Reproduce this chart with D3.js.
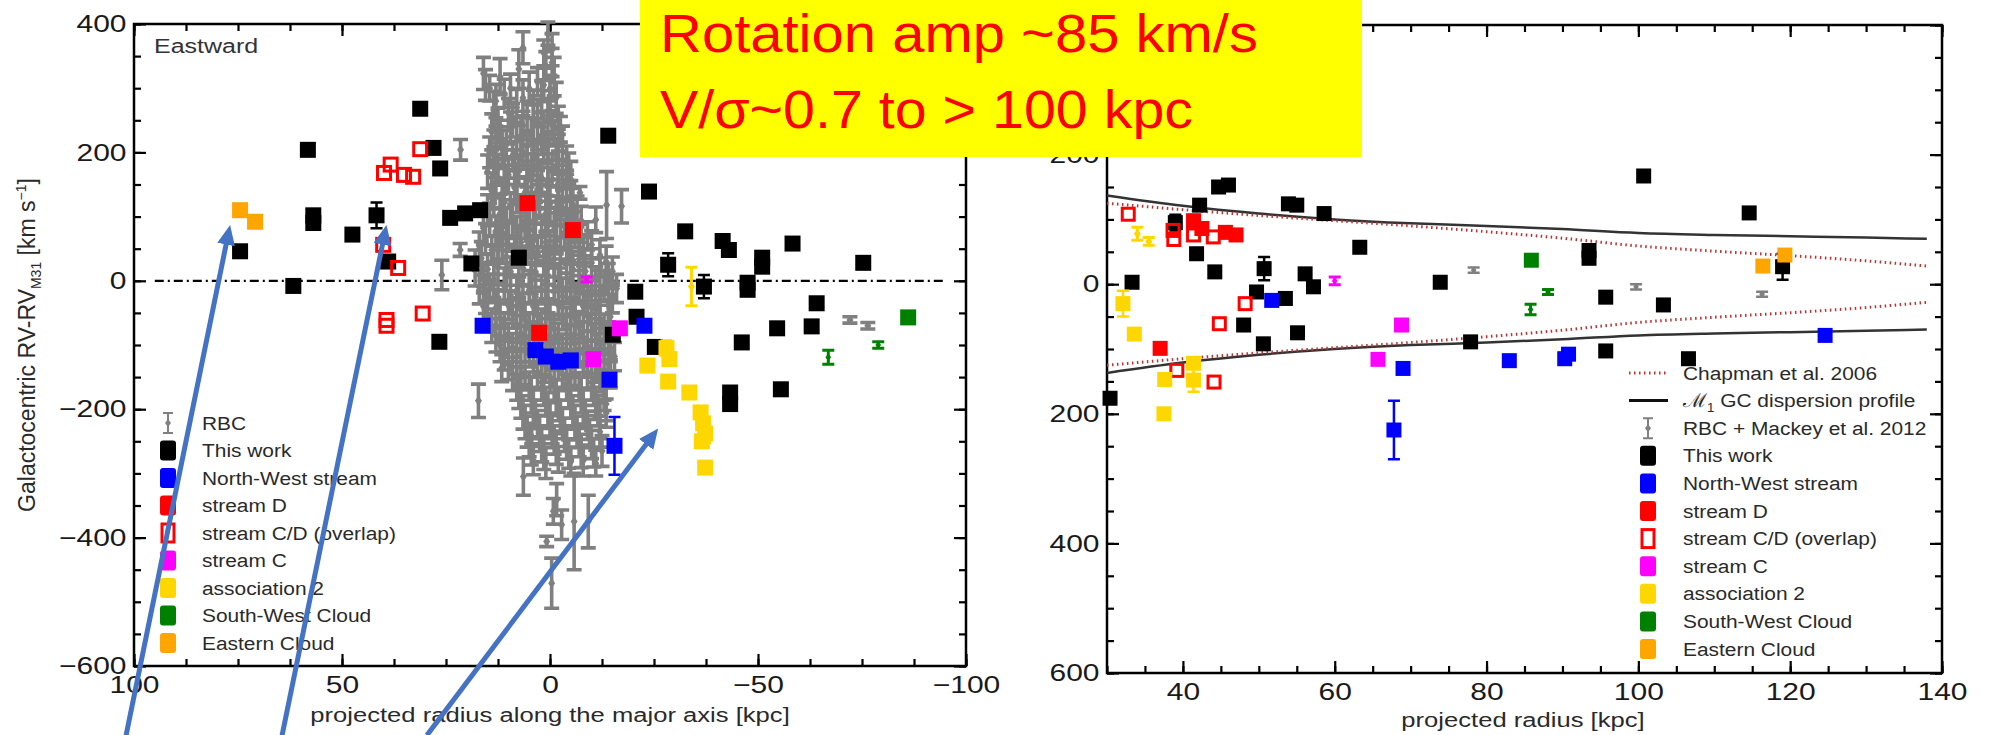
<!DOCTYPE html>
<html>
<head>
<meta charset="utf-8">
<script src="https://cdn.jsdelivr.net/npm/d3@7"></script>
<style>
body{margin:0;background:#fff}
svg{display:block;font-family:"Liberation Sans",Arial,sans-serif}
</style>
</head>
<body>
<svg id="fig" width="1991" height="735"></svg>
<script>
// ---- left panel: RV vs projected radius along major axis [x, y, err]
const rbcLeft = [
  [0.5,385,18],[-0.5,360,25],[1,335,22],[-1,318,30],[0,300,20],
  [16,323,25],[14.5,300,20],[12,318,28],[11,292,22],[7.5,330,30],[6.5,363,25],[5,300,25],[3,310,22],[2,282,30],[-1.5,285,24],
  [13.5,265,30],[10,262,22],[8,270,28],[5.5,255,25],[3,262,20],[0.5,258,26],[-2,250,22],
  [14,232,28],[12,228,22],[9.5,238,25],[7,225,30],[4.5,232,22],[2,222,25],[-1,230,20],[-3,215,26],
  [14.5,200,24],[11.5,205,30],[9,195,22],[6.5,200,26],[4,192,28],[1.5,205,22],[-1.5,195,25],[-4,188,22],
  [15,170,26],[12.5,175,22],[10,165,28],[7.5,172,24],[4.5,168,30],[2,160,22],[-0.5,172,26],[-3,165,22],[-5,158,28],
  [14,140,28],[11.5,135,22],[8.5,145,26],[6,138,24],[3,142,30],[0.5,135,22],[-2,140,26],[-5,132,24],[-7.2,137,10],
  [15,110,24],[12,105,30],[9.5,115,22],[7,108,26],[4,112,24],[1,105,28],[-1.5,110,22],[-4,102,26],[-6.5,108,24],[-11,95,20],
  [16,82,26],[13,78,22],[10.5,85,28],[8,76,24],[5,82,30],[2,75,22],[-1,80,26],[-3.5,72,24],[-6,80,28],[-9,70,22],
  [17,50,26],[14,48,22],[11.5,55,28],[8.5,45,24],[5.5,52,26],[3,46,22],[0,50,28],[-2.5,44,24],[-5,52,26],[-8,45,22],[-12,40,24],
  [18,20,28],[15,18,24],[12.5,22,26],[9.5,15,22],[6.5,20,28],[3.5,14,24],[0.5,20,26],[-2.5,12,22],[-5.5,18,28],[-8.5,15,24],[-12,10,26],[-15,15,22],
  [17,-10,26],[14.5,-12,22],[11,-8,28],[8,-15,24],[5,-10,26],[2,-14,22],[-1,-8,28],[-4,-12,24],[-7,-10,26],[-10,-15,22],[-13,-8,24],[-16,-12,22],
  [16,-40,24],[13,-42,28],[10,-38,22],[7,-45,26],[4,-40,24],[1,-44,28],[-2,-38,22],[-5,-42,26],[-8,-40,24],[-11,-45,22],[-14,-38,26],
  [14,-70,26],[11,-72,22],[8,-68,28],[5,-74,24],[2,-70,26],[-1,-75,22],[-4,-70,28],[-7,-72,24],[-10,-68,26],[-13,-74,22],
  [12,-100,26],[9,-104,22],[6,-98,28],[3,-102,24],[0,-100,26],[-3,-105,22],[-6,-98,28],[-9,-102,24],[-12,-100,26],[-14.5,-104,22],
  [10,-130,24],[7,-134,28],[4,-128,22],[1,-132,26],[-2,-130,24],[-5,-135,28],[-8,-128,22],[-11,-132,26],[-14,-130,24],
  [8,-160,26],[5,-164,22],[2,-158,28],[-1,-162,24],[-4,-160,26],[-7,-165,22],[-10,-158,28],[-13,-162,24],
  [7,-190,24],[4,-194,28],[1,-188,22],[-2,-192,26],[-5,-190,24],[-8,-195,28],[-11,-188,22],[-13.5,-192,26],
  [6,-220,26],[3,-224,22],[0,-218,28],[-3,-222,24],[-6,-220,26],[-9,-225,22],[-12,-218,28],
  [5,-250,24],[2,-254,28],[-1,-248,22],[-4,-252,26],[-7,-250,24],[-10,-255,22],
  [4,-280,22],[1,-284,24],[-2,-278,20],[-5,-282,22],[-8,-280,24],[-11,-284,20],
  [15.5,305,24],[13,280,26],[9.5,300,22],[6.5,285,28],[4,275,22],[1.5,305,26],[0,272,24],[-0.5,340,22],[1.5,355,20],
  [12.5,245,24],[9,250,26],[6.5,242,22],[4,246,28],[1.5,240,24],[-0.5,243,22],[-2.5,236,20],
  [13,215,26],[10.5,212,22],[8,218,28],[5.5,210,24],[3,214,26],[0.5,210,22],[-2,212,24],
  [13.5,185,24],[11,188,28],[8.5,182,22],[5.5,186,26],[3,180,24],[0.5,186,28],[-2,180,22],[-4.5,175,24],
  [13,155,26],[10.5,158,22],[8,152,28],[5.5,156,24],[3,150,26],[0.5,154,22],[-2,152,28],[-4,148,24],
  [13.5,125,24],[11,122,28],[8,128,22],[5.5,120,26],[2.5,126,24],[0,120,28],[-3,124,22],[-5.5,118,26],
  [14.5,95,26],[11.5,92,22],[9,98,28],[6,90,24],[3.5,96,26],[0.5,92,22],[-2.5,95,28],[-5,88,24],[-7.5,94,22],
  [15.5,65,24],[12.5,62,28],[10,68,22],[7,60,26],[4,66,24],[1,60,28],[-1.5,64,22],[-4.5,58,26],[-7,64,24],[-10,56,22],
  [16.5,35,26],[13.5,32,22],[10.5,38,28],[7.5,30,24],[4.5,36,26],[1.5,30,22],[-1,34,28],[-4,28,24],[-7,34,26],[-10,28,22],[-13.5,30,24],
  [16,5,24],[13.5,2,28],[10.5,6,22],[7.5,0,26],[4.5,4,24],[1,0,28],[-2,5,22],[-5,0,26],[-8,4,24],[-11,0,22],[-14,3,24],
  [15.5,-25,26],[12.5,-28,22],[9.5,-22,28],[6.5,-30,24],[3.5,-25,26],[0.5,-28,22],[-3,-24,28],[-6,-28,24],[-9,-25,26],[-12,-30,22],[-15,-26,24],
  [15,-55,24],[12,-58,28],[9,-52,22],[6,-60,26],[3,-55,24],[0,-58,28],[-3,-54,22],[-6,-58,26],[-9,-55,24],[-12,-60,22],[-14.5,-56,26],
  [13,-85,26],[10,-88,22],[7,-82,28],[4,-90,24],[1,-85,26],[-2,-88,22],[-5,-84,28],[-8,-88,24],[-11,-85,26],[-14,-90,22],
  [11,-115,24],[8,-118,28],[5,-112,22],[2,-120,26],[-1,-115,24],[-4,-118,28],[-7,-112,22],[-10,-118,26],[-13,-115,24],[-15.5,-118,22],
  [9,-145,26],[6,-148,22],[3,-142,28],[0,-150,24],[-3,-145,26],[-6,-148,22],[-9,-142,28],[-12,-148,24],[-14.5,-145,22],
  [7.5,-175,24],[4.5,-178,28],[1.5,-172,22],[-1.5,-180,26],[-4.5,-175,24],[-7.5,-178,28],[-10.5,-172,22],[-13,-178,24],
  [6.5,-205,26],[3.5,-208,22],[0.5,-202,28],[-2.5,-210,24],[-5.5,-205,26],[-8.5,-208,22],[-11.5,-202,24],[-13.5,-206,22],
  [5.5,-235,24],[2.5,-238,28],[-0.5,-232,22],[-3.5,-240,26],[-6.5,-235,24],[-9.5,-238,22],[-12,-235,24],
  [4.5,-265,22],[1.5,-268,26],[-1.5,-262,24],[-4.5,-270,22],[-7.5,-265,26],[-10.5,-268,22],[-12.5,-265,24],
  [21.5,204,16],[26,9,23],[21.6,48,10],[17.2,-187,26],[4.4,-242,12],[6.4,-305,29],[0.8,-406,8],
  [-0.4,-471,39],[-5.8,-375,75],[-9.2,-375,41],[-2.8,-380,23],[-0.8,-359,20],[-1.6,-341,25],
  [11.6,-136,21],[-13.6,118,52],[-17.2,116,26],[-72.1,-61,5],[-76.4,-70,5]
];
const thisWorkLeft = [
  [74.5,46],[58.2,204],[56.9,90],[56.9,102],[61.7,-8],[47.5,72],[41.7,102,20],[31.2,268],[38.9,30],
  [28,207],[26.4,175],[24,98],[20.4,105],[16.8,110],[18.9,27],[7.5,36],[26.6,-95],[-14,226],[-23.8,139],
  [-32.5,77],[-41.5,62],[-43,48],[-28.4,25,18],[-37,-9,18],[-20.5,-17],[-15.1,-84],[-20.8,-56],[-25.2,-103],
  [-58.3,58],[-51,36],[-51,22],[-75.3,28],[-47.5,-3],[-47.5,-14],[-64.1,-35],[-54.6,-74],[-62.9,-71],
  [-46.1,-96],[-55.5,-169],[-43.3,-174],[-43.3,-192]
];
const nwLeft = [[16.2,-70],[-22.7,-70],[3.5,-108],[1,-118],[-2,-126],[-5,-124],[-14.3,-154],[-15.5,-257,45]];
const streamDLeft = [[5.4,121],[-5.5,79],[2.6,-81]];
const streamCDLeft = [[39.9,168],[38.3,181],[35.1,165],[32.9,162],[31.2,205],[40.1,56],[36.5,20],[39.3,-61],[39.3,-70],[30.6,-51]];
const streamCLeft = [[-16.8,-74],[-10.4,-122]];
const streamCLeftBars = [[-8.8,2,4]];
const assoc2Left = [[-28,-105,12],[-23.4,-132],[-28.7,-122],[-28.4,-157],[-33.5,-174],[-36.2,-205],[-36.8,-222],[-37.3,-238,15],[-36.5,-250],[-37.3,-291]];
const assoc2LeftBars = [[-34,-9,30]];
const swLeft = [[-86.1,-57]];
const swLeftBars = [[-66.9,-119,11],[-78.9,-100,5]];
const easternLeft = [[74.5,110],[70.9,92]];

// ---- right panel: RV vs projected radius
const rbcRight = [[78.3,21.6,4],[99.7,-4,4],[116.3,-15.5,4]];
const thisWorkRight = [
  [39,95,12],[44.7,150],[46,153],[42.2,122],[53.9,124],[55,122],[58.6,109],[41.8,47],[44.2,19],[63.3,57],
  [33.3,3],[50.7,24,18],[56.1,16],[57.2,-4],[49.7,-12],[53.5,-22],[48,-63],[50.6,-92],[55.1,-75],[73.9,3],
  [77.9,-89],[30.4,-176],[100.7,167],[114.6,110],[93.5,52],[93.5,40],[95.7,-20],[103.3,-32],[95.7,-103],
  [106.6,-115],[119,27,20]
];
const nwRight = [[51.7,-25],[69,-130],[83,-118],[67.8,-225,45],[90.3,-115,9],[90.8,-108],[124.6,-79]];
const streamDRight = [[41.4,98],[42.5,86],[45.6,80],[47,76],[37,-99]];
const streamCDRight = [[32.8,108],[38.7,83],[38.8,69],[41.4,76],[44,73],[48.2,-30],[44.8,-61],[39.2,-133],[44.1,-151]];
const streamCRight = [[68.8,-63],[65.7,-116]];
const streamCRightBars = [[60,5,6]];
const assoc2Right = [[32.1,-30,20],[33.6,-77],[37.6,-147],[37.5,-200],[41.4,-122],[41.4,-148,18]];
const assoc2RightBars = [[34,78,10],[35.5,66,6]];
const swRight = [[85.9,37]];
const swRightBars = [[88.1,-12,4],[85.8,-39,8]];
const easternRight = [[116.4,28],[119.3,45]];

// dispersion envelopes (+/- sigma)
const envR = [30,40,50,60,70,80,90,100,110,120,130,138];
const gcSigma = [137,121,109,100,94,90,85,79,76,74,72,70];
const chapSigma = [125,115,106,98,90,81,71,59,51,44,36,28];

// ticks
const xTicksL = [100,50,0,-50,-100];
const yTicks = [400,200,0,-200,-400,-600];
const xTicksR = [40,60,80,100,120,140];

const legendLeft = ["RBC","This work","North-West stream","stream D","stream C/D (overlap)","stream C","association 2","South-West Cloud","Eastern Cloud"];
const legendRight = ["Chapman et al. 2006","GC dispersion profile","RBC + Mackey et al. 2012","This work","North-West stream","stream D","stream C/D (overlap)","stream C","association 2","South-West Cloud","Eastern Cloud"];

// annotation arrows, in left-panel data units
const arrowTips = [[76.9,87],[39.3,87],[-26,-230]];
const arrowTails = [[101.9,-708],[64.4,-708],[29.6,-708]];

const col = {black:"#000", nw:"#0000ff", red:"#ff0000", mag:"#ff00ff", yel:"#ffd700", green:"#008000", orange:"#ffa500", gray:"#808080"};

const svg = d3.select("#fig");
svg.append("rect").attr("width",1991).attr("height",735).attr("fill","#fff");

const xL = d3.scaleLinear().domain([100,-100]).range([134,966]);
const yL = d3.scaleLinear().domain([-600,400]).range([666,24]);
const xR = d3.scaleLinear().domain([30,140]).range([1107,1942]);
const yR = d3.scaleLinear().domain([-600,400]).range([673,25]);

function drawAxes(x, y, xMaj, xMin, yMaj, yMin, yFmt){
  const l = d3.min(x.range()), r = d3.max(x.range());
  const t = d3.min(y.range()), b = d3.max(y.range());
  const fmt = d3.format("d");
  const specs = [
    {mk:()=>d3.axisBottom(x), tr:`translate(0,${b})`, maj:xMaj, min:xMin, lab:fmt, pad:10},
    {mk:()=>d3.axisTop(x), tr:`translate(0,${t})`, maj:xMaj, min:xMin, lab:null, pad:3},
    {mk:()=>d3.axisLeft(y), tr:`translate(${l},0)`, maj:yMaj, min:yMin, lab:yFmt, pad:6},
    {mk:()=>d3.axisRight(y), tr:`translate(${r},0)`, maj:yMaj, min:yMin, lab:null, pad:3}
  ];
  specs.forEach(s=>{
    const g = svg.append("g").attr("transform",s.tr);
    g.append("g").call(s.mk().tickValues(s.min).tickSize(-7).tickSizeOuter(0).tickFormat(""));
    g.append("g").call(s.mk().tickValues(s.maj).tickSize(-12).tickSizeOuter(0).tickPadding(s.pad).tickFormat(s.lab || (()=>"")));
    g.selectAll(".domain").remove();
    g.selectAll("line").attr("stroke","#000").attr("stroke-width",2.2);
    g.selectAll("text").filter(function(){ return this.textContent === ""; }).remove();
    g.selectAll("text").attr("font-size",24).attr("fill","#1a1a1a")
      .attr("font-family","'Liberation Sans',Arial,sans-serif").attr("transform","scale(1.25,1)");
  });
  svg.append("rect").attr("x",l).attr("y",t).attr("width",r-l).attr("height",b-t)
    .attr("fill","none").attr("stroke","#000").attr("stroke-width",2.5);
}

function errPath(y, d, cap){
  const h = Math.abs(y(d[1]+d[2]) - y(d[1]));
  return `M0,${-h}V${h}M${-cap},${-h}H${cap}M${-cap},${h}H${cap}`;
}

function squares(x, y, data, color, size, open){
  const g = svg.append("g").selectAll("g").data(data).join("g")
    .attr("transform", d=>`translate(${x(d[0])},${y(d[1])})`);
  g.filter(d=>d[2]).append("path").attr("d", d=>errPath(y,d,6))
    .attr("fill","none").attr("stroke",color).attr("stroke-width",2.5);
  g.append("rect").attr("x",-size/2).attr("y",-size/2).attr("width",size).attr("height",size)
    .attr("fill", open ? "none" : color)
    .attr("stroke", open ? color : "none").attr("stroke-width", open ? 3 : 0);
}

function bars(x, y, data, color, cap, sw, dm){
  const g = svg.append("g").selectAll("g").data(data).join("g")
    .attr("transform", d=>`translate(${x(d[0])},${y(d[1])})`);
  g.append("path").attr("d", d=>errPath(y,d,cap))
    .attr("fill","none").attr("stroke",color).attr("stroke-width",sw);
  g.append("path").attr("d",`M0,${-dm}L${dm*0.7},0L0,${dm}L${-dm*0.7},0Z`).attr("fill",color);
}

function sText(x, y, str, size, sx, anchor, fill){
  return svg.append("text").attr("transform",`translate(${x},${y}) scale(${sx},1)`)
    .attr("font-size",size).attr("text-anchor",anchor||"start").attr("fill",fill||"#1a1a1a").text(str);
}

// ---------------- left panel
drawAxes(xL, yL, xTicksL, d3.range(100,-100.1,-12.5), yTicks, d3.range(400,-600.1,-50), d3.format("d"));
svg.append("line").attr("x1",xL(95)).attr("x2",xL(-95)).attr("y1",yL(0)).attr("y2",yL(0))
  .attr("stroke","#000").attr("stroke-width",2.2).attr("stroke-dasharray","9,4,2,4");

bars(xL, yL, rbcLeft, col.gray, 7.5, 3.6, 5);
squares(xL, yL, thisWorkLeft, col.black, 16);
squares(xL, yL, nwLeft, col.nw, 16);
squares(xL, yL, streamDLeft, col.red, 16);
squares(xL, yL, streamCDLeft, col.red, 13, true);
squares(xL, yL, streamCLeft, col.mag, 16);
bars(xL, yL, streamCLeftBars, col.mag, 6, 3, 4);
squares(xL, yL, assoc2Left, col.yel, 16);
bars(xL, yL, assoc2LeftBars, col.yel, 6, 3, 5);
squares(xL, yL, swLeft, col.green, 16);
bars(xL, yL, swLeftBars, col.green, 6, 3, 4);
squares(xL, yL, easternLeft, col.orange, 16);

sText(154, 53, "Eastward", 20, 1.25, "start", "#333");

// left legend
const legLColors = [col.gray,col.black,col.nw,col.red,col.red,col.mag,col.yel,col.green,col.orange];
legendLeft.forEach((lab,i)=>{
  const cy = 423 + i*27.5, cx = 168;
  if(i===0){
    svg.append("path").attr("d",`M${cx},${cy-10}V${cy+10}M${cx-5},${cy-10}H${cx+5}M${cx-5},${cy+10}H${cx+5}`)
      .attr("stroke",col.gray).attr("stroke-width",2).attr("fill","none");
    svg.append("path").attr("d",`M${cx},${cy-4}L${cx+3},${cy}L${cx},${cy+4}L${cx-3},${cy}Z`).attr("fill",col.gray);
  } else if(i===4){
    svg.append("rect").attr("x",cx-6).attr("y",cy-9).attr("width",12).attr("height",18)
      .attr("fill","#fff").attr("stroke",col.red).attr("stroke-width",3);
  } else {
    svg.append("rect").attr("x",cx-8).attr("y",cy-10).attr("width",16).attr("height",20).attr("rx",3)
      .attr("fill",legLColors[i]);
  }
  sText(202, cy, lab, 19, 1.1).attr("dy","0.35em").attr("fill","#2a2a2a");
});

// axis titles
sText(550, 722, "projected radius along the major axis [kpc]", 20, 1.28, "middle", "#2a2a2a");
const yt = svg.append("text").attr("transform","translate(35,345) rotate(-90)")
  .attr("font-size",23).attr("text-anchor","middle").attr("fill","#2a2a2a");
yt.append("tspan").text("Galactocentric RV-RV");
yt.append("tspan").attr("dy",6).attr("font-size",14).text("M31");
yt.append("tspan").attr("dy",-6).text(" [km s");
yt.append("tspan").attr("dy",-9).attr("font-size",14).text("\u22121");
yt.append("tspan").attr("dy",9).text("]");

// ---------------- right panel (top label hidden under the slide box)
drawAxes(xR, yR, xTicksR, d3.range(30,140.1,5), [400,200,0,-200,-400,-600], d3.range(400,-600.1,-50),
  d=> d===400 ? "" : Math.abs(d));

const line = d3.line().curve(d3.curveMonotoneX);
const env = (sig, sgn)=> envR.map((r,i)=>[xR(r), yR(sgn*sig[i])]);
[1,-1].forEach(s=>{
  svg.append("path").attr("d",line(env(gcSigma,s))).attr("fill","none")
    .attr("stroke","#333").attr("stroke-width",2.5);
  svg.append("path").attr("d",line(env(chapSigma,s))).attr("fill","none")
    .attr("stroke","#c03030").attr("stroke-width",3).attr("stroke-dasharray","1.5,3.5");
});

bars(xR, yR, rbcRight, col.gray, 6, 2.5, 4);
squares(xR, yR, thisWorkRight, col.black, 15);
squares(xR, yR, nwRight, col.nw, 15);
squares(xR, yR, streamDRight, col.red, 15);
squares(xR, yR, streamCDRight, col.red, 12, true);
squares(xR, yR, streamCRight, col.mag, 15);
bars(xR, yR, streamCRightBars, col.mag, 6, 3, 4);
squares(xR, yR, assoc2Right, col.yel, 15);
bars(xR, yR, assoc2RightBars, col.yel, 6, 3, 5);
squares(xR, yR, swRight, col.green, 15);
bars(xR, yR, swRightBars, col.green, 6, 3, 4);
squares(xR, yR, easternRight, col.orange, 15);

// right legend
const legRColors = [null,null,col.gray,col.black,col.nw,col.red,col.red,col.mag,col.yel,col.green,col.orange];
legendRight.forEach((lab,i)=>{
  const cy = 373 + i*27.6, cx = 1648;
  if(i===0){
    svg.append("line").attr("x1",1629).attr("x2",1668).attr("y1",cy).attr("y2",cy)
      .attr("stroke","#c03030").attr("stroke-width",3).attr("stroke-dasharray","1.5,3.5");
  } else if(i===1){
    svg.append("line").attr("x1",1629).attr("x2",1668).attr("y1",cy).attr("y2",cy)
      .attr("stroke","#111").attr("stroke-width",3);
  } else if(i===2){
    svg.append("path").attr("d",`M${cx},${cy-10}V${cy+10}M${cx-5},${cy-10}H${cx+5}M${cx-5},${cy+10}H${cx+5}`)
      .attr("stroke",col.gray).attr("stroke-width",2).attr("fill","none");
    svg.append("path").attr("d",`M${cx},${cy-4}L${cx+3},${cy}L${cx},${cy+4}L${cx-3},${cy}Z`).attr("fill",col.gray);
  } else if(i===6){
    svg.append("rect").attr("x",cx-6).attr("y",cy-9).attr("width",12).attr("height",18)
      .attr("fill","#fff").attr("stroke",col.red).attr("stroke-width",3);
  } else {
    svg.append("rect").attr("x",cx-8).attr("y",cy-10).attr("width",16).attr("height",20).attr("rx",3)
      .attr("fill",legRColors[i]);
  }
  const t = sText(1683, cy, "", 19, 1.1).attr("dy","0.35em").attr("fill","#2a2a2a");
  if(i===1){
    t.append("tspan").text("\u2133");
    t.append("tspan").attr("dy",5).attr("font-size",12).text("1");
    t.append("tspan").attr("dy",-5).text(" " + lab);
  } else t.text(lab);
});

sText(1523, 727, "projected radius [kpc]", 20, 1.28, "middle", "#2a2a2a");

// ---------------- slide overlay
svg.append("rect").attr("x",640).attr("y",0).attr("width",722).attr("height",157).attr("fill","#ffff00");
svg.append("text").attr("x",660).attr("y",52).attr("font-size",54).attr("fill","#ff0000")
  .attr("font-family","'Liberation Sans',Arial,sans-serif")
  .attr("textLength",598).attr("lengthAdjust","spacingAndGlyphs").text("Rotation amp ~85 km/s");
svg.append("text").attr("x",660).attr("y",128).attr("font-size",54).attr("fill","#ff0000")
  .attr("font-family","'Liberation Sans',Arial,sans-serif")
  .attr("textLength",533).attr("lengthAdjust","spacingAndGlyphs").text("V/\u03c3~0.7 to > 100 kpc");

svg.append("defs").append("marker").attr("id","ah").attr("markerUnits","userSpaceOnUse")
  .attr("viewBox","0 0 20 18").attr("markerWidth",20).attr("markerHeight",18)
  .attr("refX",8).attr("refY",9).attr("orient","auto")
  .append("path").attr("d","M0,0L20,9L0,18Z").attr("fill","#4472c4");
arrowTips.forEach((tp,i)=>{
  const x1 = xL(arrowTails[i][0]), y1 = yL(arrowTails[i][1]);
  const x2 = xL(tp[0]), y2 = yL(tp[1]);
  const len = Math.hypot(x2-x1, y2-y1), k = (len-12)/len;
  svg.append("line").attr("x1",x1).attr("y1",y1)
    .attr("x2",x1+(x2-x1)*k).attr("y2",y1+(y2-y1)*k)
    .attr("stroke","#4472c4").attr("stroke-width",5).attr("marker-end","url(#ah)");
});
</script>
</body>
</html>
